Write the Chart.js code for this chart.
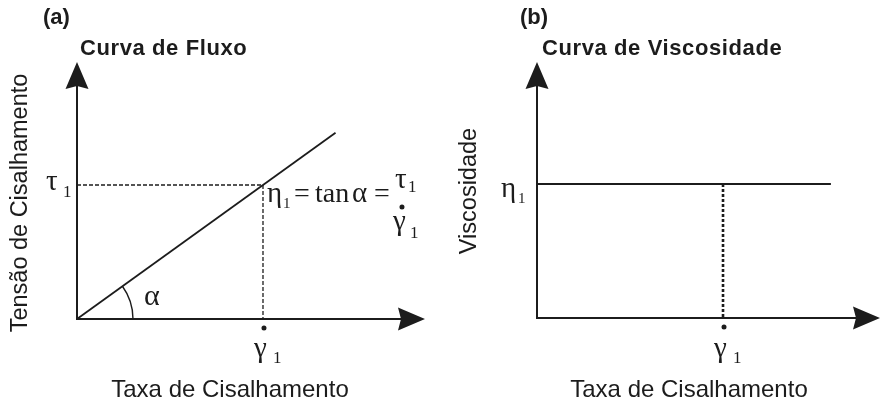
<!DOCTYPE html>
<html>
<head>
<meta charset="utf-8">
<title>Curva de Fluxo / Curva de Viscosidade</title>
<script src="https://cdn.jsdelivr.net/npm/chart.js@4/dist/chart.umd.min.js"></script>
<style>
    html, body { margin: 0; padding: 0; background: #fff; }
    #wrap { position: relative; width: 880px; height: 406px; }
    #wrap canvas { position: absolute; top: 0; }
    #flow-chart { left: 0; }
    #visc-chart { left: 440px; }
</style>
</head>
<body>
<div id="wrap">
    <canvas id="flow-chart" width="440" height="406"></canvas>
    <canvas id="visc-chart" width="440" height="406"></canvas>
</div>
<script>
// reference point (arbitrary units)
var gamma1 = 1.0;   // shear rate
var tau1 = 1.0;     // shear stress at gamma1
var eta1 = 1.0;     // viscosity

// (a) Newtonian flow curve: straight line through the origin
var flowRate = [0, 1.39];
var flowStress = [0, 1.39];

// (b) viscosity curve: constant viscosity
var viscRate = [0, 1.58];
var viscValue = [eta1, eta1];

// axis extents (where the arrow tips sit)
var flowAxisMax = { x: 1.871, y: 1.918 };
var viscAxisMax = { x: 1.844, y: 1.91 };

var flowTitle = 'Curva de Fluxo';
var viscTitle = 'Curva de Viscosidade';
var rateTitle = 'Taxa de Cisalhamento';
var stressTitle = 'Tensão de Cisalhamento';
var viscAxisTitle = 'Viscosidade';

var INK = '#1c1c1c';
var SANS = '"Liberation Sans", Arial, sans-serif';
var SERIF = '"Liberation Serif", "Times New Roman", serif';
var GREEK = '29px ' + SERIF;

function toPoints(xs, ys) {
    return xs.map(function(x, i) { return { x: x, y: ys[i] }; });
}

function put(ctx, str, x, y, font, align) {
    ctx.font = font;
    ctx.textAlign = align || 'left';
    ctx.textBaseline = 'alphabetic';
    ctx.fillText(str, x, y);
}

function dot(ctx, x, y) {
    ctx.beginPath();
    ctx.arc(x, y, 2.5, 0, Math.PI * 2);
    ctx.fill();
}

// filled arrow head with a slightly notched back
function arrowHead(ctx, tipX, tipY, dx, dy) {
    var len = 27, half = 11.5, notch = 3;
    var px = -dy, py = dx;
    var bx = tipX - dx * len, by = tipY - dy * len;
    ctx.beginPath();
    ctx.moveTo(tipX, tipY);
    ctx.lineTo(bx + px * half, by + py * half);
    ctx.lineTo(bx + dx * notch, by + dy * notch);
    ctx.lineTo(bx - px * half, by - py * half);
    ctx.closePath();
    ctx.fill();
}

// axes with arrows, drawn from the scales
var axesPlugin = {
    id: 'axesArrows',
    afterDatasetsDraw: function(chart) {
        var ctx = chart.ctx, xs = chart.scales.x, ys = chart.scales.y;
        var ox = xs.getPixelForValue(0), oy = ys.getPixelForValue(0);
        var xEnd = xs.getPixelForValue(xs.max), yEnd = ys.getPixelForValue(ys.max);
        ctx.save();
        ctx.strokeStyle = INK;
        ctx.fillStyle = INK;
        ctx.lineWidth = 2;
        ctx.beginPath();
        ctx.moveTo(ox, yEnd + 24);
        ctx.lineTo(ox, oy);
        ctx.lineTo(xEnd - 24, oy);
        ctx.stroke();
        arrowHead(ctx, ox, yEnd, 0, -1);
        arrowHead(ctx, xEnd, oy, 1, 0);
        ctx.restore();
    }
};

function headings(ctx, tag, tagX, title, titleX) {
    put(ctx, tag, tagX, 24, 'bold 22px ' + SANS);
    ctx.letterSpacing = '0.6px';
    put(ctx, title, titleX, 55, 'bold 22px ' + SANS);
    ctx.letterSpacing = '0px';
}

function axisTitles(ctx, yTitle, yx, yy, xTitle, xx) {
    put(ctx, xTitle, xx, 397, '24px ' + SANS, 'center');
    ctx.save();
    ctx.translate(yx, yy);
    ctx.rotate(-Math.PI / 2);
    ctx.font = '23.5px ' + SANS;
    ctx.textAlign = 'center';
    ctx.textBaseline = 'middle';
    ctx.fillText(yTitle, 0, 0);
    ctx.restore();
}

// γ̇1 mark under the x axis
function gammaTick(ctx, gx, oy) {
    dot(ctx, gx + 1, oy + 9);
    put(ctx, 'γ', gx - 9, 357, GREEK);
    put(ctx, '1', gx + 10, 363, '17px ' + SERIF);
}

var flowLabels = {
    id: 'flowLabels',
    afterDraw: function(chart) {
        var ctx = chart.ctx, xs = chart.scales.x, ys = chart.scales.y;
        var ox = xs.getPixelForValue(0), oy = ys.getPixelForValue(0);
        var gx = xs.getPixelForValue(gamma1), ty = ys.getPixelForValue(tau1);
        var ex = xs.getPixelForValue(flowRate[1]), ey = ys.getPixelForValue(flowStress[1]);
        ctx.save();
        ctx.fillStyle = INK;
        ctx.strokeStyle = INK;

        headings(ctx, '(a)', 43, flowTitle, 80);
        axisTitles(ctx, stressTitle, 21, 203, rateTitle, ox + 153);

        // τ1 on the stress axis
        put(ctx, 'τ', ox - 31, ty + 5, GREEK);
        put(ctx, '1', ox - 14, ty + 12, '17px ' + SERIF);

        // angle α between curve and axis
        var ang = Math.atan2(oy - ey, ex - ox);
        ctx.lineWidth = 1.4;
        ctx.beginPath();
        ctx.arc(ox, oy, 56, -ang, 0);
        ctx.stroke();
        put(ctx, 'α', ox + 67, oy - 14, '30px ' + SERIF);

        gammaTick(ctx, gx, oy);

        // η1 = tan α = τ1 / γ̇1
        put(ctx, 'η', gx + 4, ty + 17, GREEK);
        put(ctx, '1', gx + 20, ty + 23, '15px ' + SERIF);
        put(ctx, '=', gx + 31, ty + 17, '28px ' + SERIF);
        put(ctx, 'tan', gx + 52, ty + 17, '28px ' + SERIF);
        put(ctx, 'α', gx + 89, ty + 17, GREEK);
        put(ctx, '=', gx + 111, ty + 17, '28px ' + SERIF);
        put(ctx, 'τ', gx + 132, ty + 3, GREEK);
        put(ctx, '1', gx + 145, ty + 7, '17px ' + SERIF);
        dot(ctx, gx + 139, ty + 22);
        put(ctx, 'γ', gx + 130, ty + 45, GREEK);
        put(ctx, '1', gx + 147, ty + 53, '17px ' + SERIF);
        ctx.restore();
    }
};

var viscLabels = {
    id: 'viscLabels',
    afterDraw: function(chart) {
        var ctx = chart.ctx, xs = chart.scales.x, ys = chart.scales.y;
        var ox = xs.getPixelForValue(0), oy = ys.getPixelForValue(0);
        var gx = xs.getPixelForValue(gamma1), hy = ys.getPixelForValue(eta1);
        ctx.save();
        ctx.fillStyle = INK;

        headings(ctx, '(b)', 80, viscTitle, 102);
        axisTitles(ctx, viscAxisTitle, ox - 67, 191, rateTitle, ox + 152);

        put(ctx, 'η', ox - 36, hy + 13, GREEK);
        put(ctx, '1', ox - 19, hy + 19, '15px ' + SERIF);

        gammaTick(ctx, gx, oy);
        ctx.restore();
    }
};

function lineSet(points, width, dash) {
    return {
        data: points,
        showLine: true,
        borderColor: INK,
        borderWidth: width,
        borderDash: dash || [],
        pointRadius: 0,
        fill: false,
        clip: false
    };
}

function baseOptions(axisMax, padding) {
    return {
        responsive: false,
        animation: false,
        events: [],
        layout: { padding: padding },
        plugins: { legend: { display: false }, tooltip: { enabled: false } },
        scales: {
            x: { type: 'linear', min: 0, max: axisMax.x, display: false },
            y: { type: 'linear', min: 0, max: axisMax.y, display: false }
        }
    };
}

new Chart(document.getElementById('flow-chart').getContext('2d'), {
    type: 'scatter',
    data: {
        datasets: [
            lineSet(toPoints(flowRate, flowStress), 1.8),
            lineSet([{ x: 0, y: tau1 }, { x: gamma1, y: tau1 }], 1.3, [4, 2]),
            lineSet([{ x: gamma1, y: tau1 }, { x: gamma1, y: 0 }], 1.3, [4, 2])
        ]
    },
    options: baseOptions(flowAxisMax, { left: 77, right: 15, top: 62, bottom: 87 }),
    plugins: [axesPlugin, flowLabels]
});

new Chart(document.getElementById('visc-chart').getContext('2d'), {
    type: 'scatter',
    data: {
        datasets: [
            lineSet(toPoints(viscRate, viscValue), 2),
            lineSet([{ x: gamma1, y: eta1 }, { x: gamma1, y: 0 }], 2.6, [3, 2])
        ]
    },
    options: baseOptions(viscAxisMax, { left: 97, right: 0, top: 62, bottom: 88 }),
    plugins: [axesPlugin, viscLabels]
});
</script>
</body>
</html>
